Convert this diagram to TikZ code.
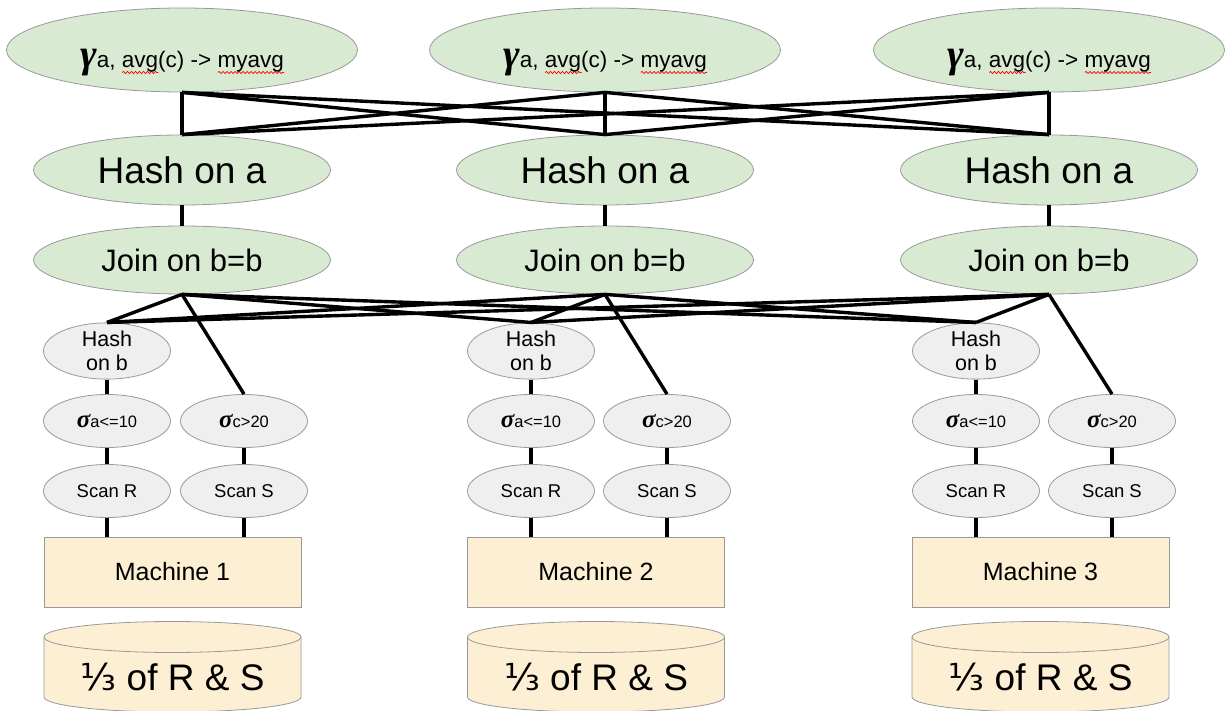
\documentclass[tikz,border=0pt]{standalone}
\usepackage{fontspec}
\setmainfont{Liberation Sans}
\newfontfamily\gbi{Liberation Serif}
\newfontfamily\dejavu{DejaVu Sans}
\usetikzlibrary{shapes.geometric,decorations.pathmorphing}
\newlength\wavewd
\newcommand\redwave[1]{\settowidth\wavewd{#1}\makebox[0pt][l]{\tikz[baseline=0pt]{\draw[red, fill=none, line width=0.7pt, decorate, decoration={snake, amplitude=1.1pt, segment length=4pt}] (0pt,-4.5pt) -- (\wavewd,-4.5pt);}}#1}
\definecolor{gfill}{HTML}{D9EAD3}
\definecolor{grayfill}{HTML}{EFEFEF}
\definecolor{boxfill}{HTML}{FCEFD4}
\definecolor{edgegray}{HTML}{999999}
\newcommand\bisym[1]{{\gbi\bfseries\itshape #1}}
\tikzset{
  bigell/.style={ellipse, draw=edgegray, fill=gfill, line width=0.8pt, inner sep=0pt,
    minimum width=297pt, minimum height=70pt, font=\fontsize{37}{40}\selectfont},
  gamell/.style={bigell, minimum width=351pt, minimum height=84pt,
    font=\fontsize{22.5}{24}\selectfont, text height=40pt, text depth=4pt},
  smallell/.style={ellipse, draw=edgegray, fill=grayfill, line width=0.8pt, inner sep=0pt,
    minimum width=127pt, minimum height=53pt, font=\fontsize{18.5}{20}\selectfont, align=center},
  machinebox/.style={rectangle, draw=edgegray, fill=boxfill, line width=0.8pt,
    minimum width=257pt, minimum height=70pt, font=\fontsize{25}{28}\selectfont},
  disklabel/.style={font=\fontsize{37}{40}\selectfont, inner sep=0pt},
  wire/.style={line width=3.4pt, black},
  diskline/.style={draw=edgegray, fill=boxfill, line width=0.8pt}
}
\begin{document}
\begin{tikzpicture}[x=1pt,y=1pt]
\useasboundingbox (0,0) rectangle (1225,-711);
\foreach \i/\cx/\hx/\sx/\mx in {1/182/107/244/172.5, 2/605/531/667/596, 3/1049/976/1112/1040.5}{
  \node[gamell] (g\i) at (\cx,-50) {\bisym{\fontsize{40}{40}\selectfont γ}a, \redwave{avg}(c) -> \redwave{myavg}};
  \node[bigell] (ha\i) at (\cx,-170) {Hash on a};
  \node[bigell, minimum height=68pt, font=\fontsize{31}{34}\selectfont] (j\i) at (\cx,-260) {Join on b=b};
  \node[smallell, minimum height=56pt, font=\fontsize{21.5}{24}\selectfont] (hb\i) at (\hx,-351) {Hash\\on b};
  \node[smallell, font=\fontsize{16.5}{18}\selectfont] (sa\i) at (\hx,-421) {\bisym{\fontsize{25}{25}\selectfont σ}a<=10};
  \node[smallell, font=\fontsize{16.5}{18}\selectfont] (sc\i) at (\sx,-421) {\bisym{\fontsize{25}{25}\selectfont σ}c>20};
  \node[smallell] (sr\i) at (\hx,-491) {Scan R};
  \node[smallell] (ss\i) at (\sx,-491) {Scan S};
  \node[machinebox] (m\i) at (\mx,-572) {Machine \i};
  \path[diskline] ({\mx-128.5},-637) -- ({\mx-128.5},-697)
     arc[start angle=180, end angle=360, x radius=128.5, y radius=15]
     -- ({\mx+128.5},-637)
     arc[start angle=0, end angle=180, x radius=128.5, y radius=15.5] -- cycle;
  \draw[draw=edgegray, line width=0.8pt] ({\mx-128.5},-637)
     arc[start angle=180, end angle=360, x radius=128.5, y radius=15.5];
  \node[disklabel] (d\i) at (\mx,-677) {{\dejavu ⅓} of R \& S};
}
\foreach \i in {1,2,3}{
  \foreach \j in {1,2,3}{
    \draw[wire] (g\i.south) -- (ha\j.north);
    \draw[wire] (j\i.south) -- (hb\j.north);
  }
  \draw[wire] (ha\i.south) -- (j\i.north);
  \draw[wire] (j\i.south) -- (sc\i.north);
  \draw[wire] (hb\i.south) -- (sa\i.north);
  \draw[wire] (sa\i.south) -- (sr\i.north);
  \draw[wire] (sc\i.south) -- (ss\i.north);
  \draw[wire] (sr\i.south) -- (sr\i.south |- m\i.north);
  \draw[wire] (ss\i.south) -- (ss\i.south |- m\i.north);
}
\end{tikzpicture}
\end{document}
